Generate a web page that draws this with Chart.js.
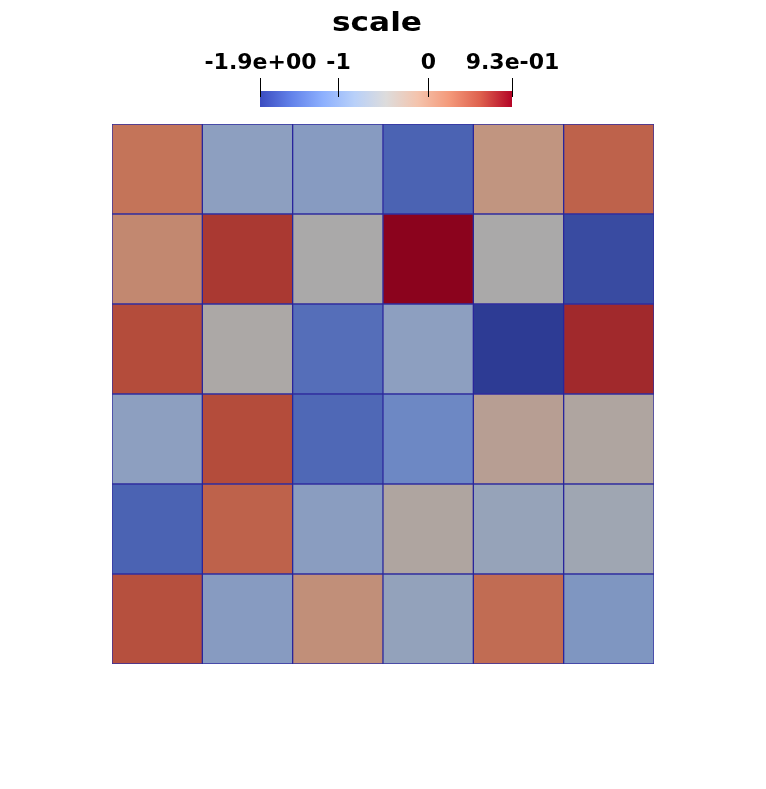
<!DOCTYPE html>
<html>
<head>
<meta charset="UTF-8">
<title>scale</title>
<script src="https://cdn.jsdelivr.net/npm/chart.js"></script>
<style>
  html, body { margin: 0; padding: 0; background: #fff; overflow: hidden; }
  #wrap { width: 766px; height: 789px; position: relative; }
</style>
</head>
<body>
<div id="wrap"><canvas id="grid"></canvas></div>
<script>
// cell values, top row first, left to right
const rows = [
  [ 0.23, -0.83, -0.89, -1.53, -0.11,  0.37],
  [ 0.03,  0.65, -0.47,  0.93, -0.47, -1.73],
  [ 0.54, -0.44, -1.42, -0.83, -1.87,  0.73],
  [-0.83,  0.54, -1.48, -1.17, -0.27, -0.39],
  [-1.53,  0.37, -0.86, -0.39, -0.72, -0.61],
  [ 0.51, -0.89, -0.05, -0.75,  0.29, -0.97]
];
const columns = ['1', '2', '3', '4', '5', '6'];
const vMin = -1.87, vMax = 0.93;
const barTicks = [-1.87, -1, 0, 0.93];
const barLabels = ['-1.9e+00', '-1', '0', '9.3e-01'];
const title = 'scale';

// cool to warm colour map
const cmap = [
  [59, 76, 192], [98, 130, 234], [141, 176, 254], [184, 208, 249],
  [221, 220, 220], [244, 196, 173], [244, 154, 123], [222, 96, 77], [180, 4, 38]
];
function lookup(t) {
  t = Math.max(0, Math.min(1, t));
  const p = t * (cmap.length - 1);
  const i = Math.min(cmap.length - 2, Math.floor(p));
  const f = p - i;
  return cmap[i].map((c, k) => c + (cmap[i + 1][k] - c) * f);
}
// the cells are lit, so they come out darker than the bar
function cellColor(v) {
  const t = (v - vMin) / (vMax - vMin);
  let c = lookup(t).map(x => x * 0.77);
  if (t > 0.5) {
    const boost = 1 + 0.15 * Math.max(0, Math.min(1, (1 - t) / 0.2));
    const m = (c[0] + c[1] + c[2]) / 3;
    c = c.map(x => m + (x - m) * boost);
  }
  return `rgb(${c.map(x => Math.max(0, Math.min(255, Math.round(x)))).join(',')})`;
}

const datasets = rows.slice().reverse().map((r, i) => ({
  label: 'row' + (i + 1),
  data: r.map(() => 1),
  backgroundColor: r.map(cellColor),
  borderColor: 'rgba(28,24,150,0.9)',
  borderWidth: 1,
  borderSkipped: false,
  barPercentage: 1,
  categoryPercentage: 1
}));

const colorBar = {
  id: 'colorBar',
  afterDraw(chart) {
    const ctx = chart.ctx;
    const x0 = 260, x1 = 512, y0 = 91, y1 = 107;
    ctx.save();
    const g = ctx.createLinearGradient(x0, 0, x1, 0);
    cmap.forEach((c, i) => g.addColorStop(i / (cmap.length - 1), `rgb(${c.join(',')})`));
    ctx.fillStyle = g;
    ctx.fillRect(x0, y0, x1 - x0, y1 - y0);

    ctx.strokeStyle = '#000';
    ctx.lineWidth = 1;
    ctx.fillStyle = '#000';
    ctx.font = 'bold 22px "DejaVu Sans"';
    ctx.textAlign = 'center';
    ctx.textBaseline = 'alphabetic';
    barTicks.forEach((v, i) => {
      const x = Math.round(x0 + (v - vMin) / (vMax - vMin) * (x1 - x0)) + 0.5;
      ctx.beginPath();
      ctx.moveTo(x, 78);
      ctx.lineTo(x, 97);
      ctx.stroke();
      ctx.fillText(barLabels[i], x, 69);
    });

    ctx.translate(377, 31);
    ctx.scale(1.2, 1);
    ctx.font = 'bold 26px "DejaVu Sans"';
    ctx.fillText(title, 0, 0);
    ctx.restore();
  }
};

new Chart(document.getElementById('grid'), {
  type: 'bar',
  data: { labels: columns, datasets: datasets },
  options: {
    responsive: true,
    maintainAspectRatio: false,
    animation: false,
    layout: { padding: { left: 112, right: 112, top: 124, bottom: 125 } },
    plugins: { legend: { display: false }, tooltip: { enabled: false } },
    scales: {
      x: { stacked: true, display: false },
      y: { stacked: true, display: false, min: 0, max: 6 }
    }
  },
  plugins: [colorBar]
});
</script>
</body>
</html>
